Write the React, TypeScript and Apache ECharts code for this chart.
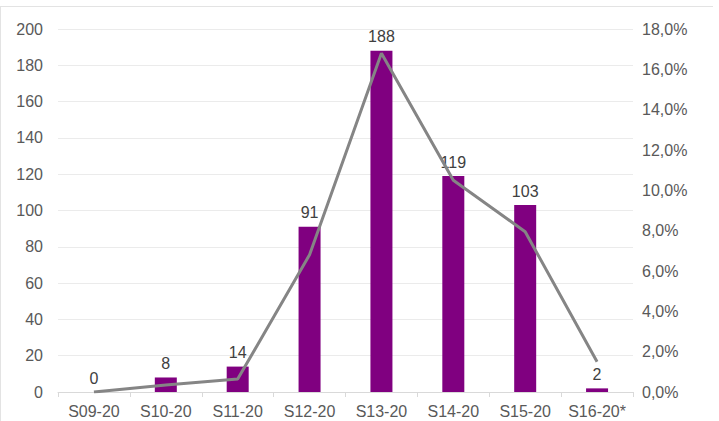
import React, { useEffect, useRef } from "react";
import * as echarts from "echarts";

const categories = ["S09-20", "S10-20", "S11-20", "S12-20", "S13-20", "S14-20", "S15-20", "S16-20*"];
const barValues = [0, 8, 14, 91, 188, 119, 103, 2];
const lineValues = [0, 0.35, 0.64, 6.8, 16.8, 10.5, 7.95, 1.5];

export default function App() {
  const ref = useRef<HTMLDivElement>(null);
  useEffect(() => {
    const chart = echarts.init(ref.current!, null, { renderer: "svg" });
    const font = "Liberation Sans, Arial, sans-serif";
    chart.setOption({
      animation: false,
      textStyle: { fontFamily: font },
      graphic: [
        { type: "line", shape: { x1: 0, y1: 6.5, x2: 713, y2: 6.5 }, style: { stroke: "#e3e3e3", lineWidth: 1 } },
        { type: "line", shape: { x1: 0.5, y1: 6, x2: 0.5, y2: 421 }, style: { stroke: "#e3e3e3", lineWidth: 1 } },
      ],
      grid: { left: 58, right: 86, top: 29, bottom: 29 },
      xAxis: {
        type: "category",
        data: categories,
        axisLine: { lineStyle: { color: "#d9d9d9" } },
        axisTick: { show: true, interval: 0, length: 5, lineStyle: { color: "#d9d9d9" } },
        axisLabel: { interval: 0, color: "#595959", fontSize: 16, margin: 11, fontFamily: font },
      },
      yAxis: [
        {
          type: "value",
          min: 0,
          max: 200,
          interval: 20,
          axisLine: { show: false },
          axisTick: { show: false },
          splitLine: { lineStyle: { color: "#ebebeb" } },
          axisLabel: { color: "#595959", fontSize: 16, margin: 15, fontFamily: font },
        },
        {
          type: "value",
          min: 0,
          max: 18,
          interval: 2,
          axisLine: { show: false },
          axisTick: { show: false },
          splitLine: { show: false },
          axisLabel: {
            color: "#595959",
            fontSize: 16,
            margin: 9,
            fontFamily: font,
            formatter: (v: number) => v.toFixed(1).replace(".", ",") + "%",
          },
        },
      ],
      series: [
        {
          type: "bar",
          data: barValues,
          barWidth: 22,
          itemStyle: { color: "#800080" },
          label: { show: true, position: "top", distance: 6, color: "#404040", fontSize: 16, fontFamily: font },
        },
        {
          type: "line",
          yAxisIndex: 1,
          data: lineValues,
          symbol: "none",
          lineStyle: { color: "#858585", width: 3 },
          z: 3,
        },
      ],
    });
    return () => chart.dispose();
  }, []);
  return <div ref={ref} style={{ position: "fixed", left: 0, top: 0, width: 719, height: 421, background: "#fff" }} />;
}
